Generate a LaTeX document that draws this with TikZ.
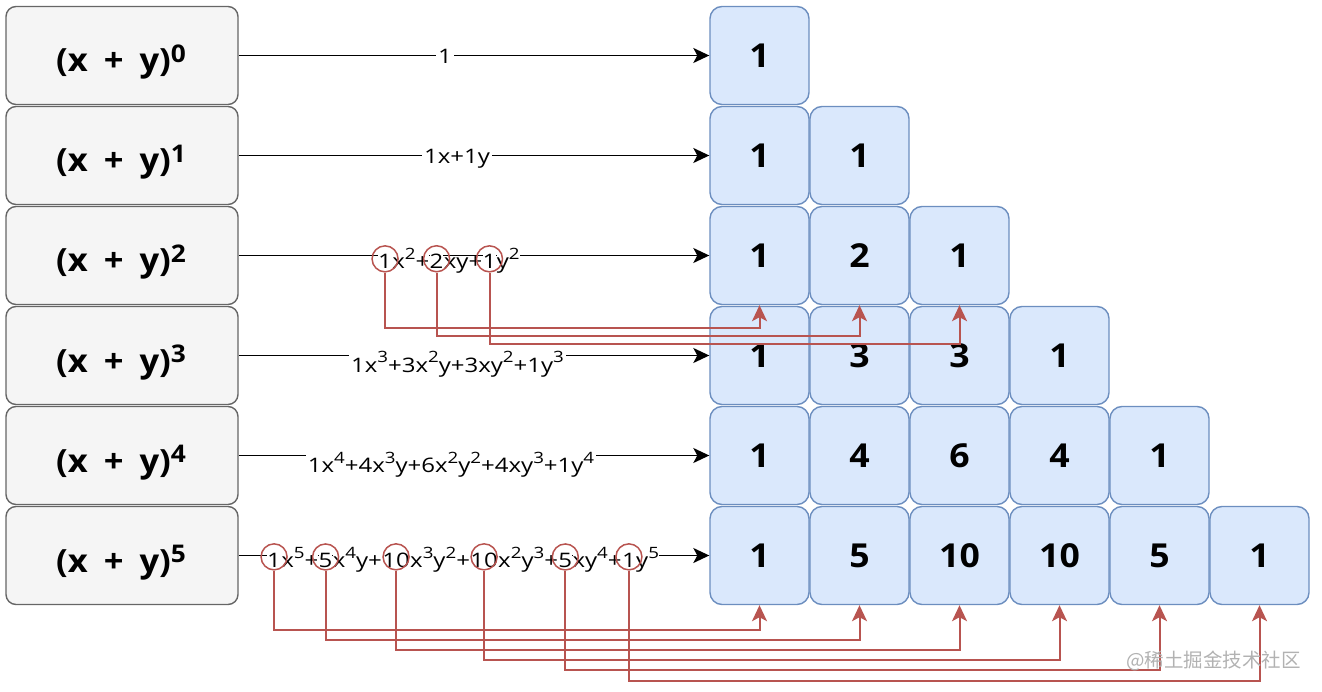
\documentclass[tikz,border=0pt]{standalone}
\usepackage{fontspec}
\setmainfont{Open Sans}
\newfontfamily\lblfont[FakeStretch=1.2]{Open Sans}
\newfontfamily\boxfont[FakeStretch=1.08]{Open Sans}
\newfontfamily\cjkfont{Noto Sans CJK SC}
\usetikzlibrary{arrows.meta}
\definecolor{gstroke}{HTML}{666666}
\definecolor{gfill}{HTML}{F5F5F5}
\definecolor{bstroke}{HTML}{6C8EBF}
\definecolor{bfill}{HTML}{DAE8FC}
\definecolor{rstroke}{HTML}{B85450}
\newcommand\sps[1]{\raisebox{0.45em}{\scalebox{0.78}{#1}}}
\newcommand\bsps[1]{\raisebox{0.3em}{\scalebox{0.76}{#1}}}
\newcommand\boxtxt[1]{(x\hspace{0.5em}+\hspace{0.5em}y)\bsps{#1}}
\tikzset{
  lbox/.style={draw=gstroke, fill=gfill, line width=1.4pt, rounded corners=10pt,
    minimum width=232pt, minimum height=98pt, inner sep=0pt},
  ltxt/.style={anchor=base, inner sep=0pt, font=\boxfont\fontsize{32}{32}\selectfont\bfseries},
  bbox/.style={draw=bstroke, fill=bfill, line width=1.4pt, rounded corners=12pt,
    minimum width=99pt, minimum height=98pt, inner sep=0pt,
    font=\boxfont\fontsize{33}{33}\selectfont\bfseries},
  arr/.style={line width=1.8pt, draw=black, -{Stealth[length=16pt,width=15pt,inset=4pt]}},
  conn/.style={line width=2pt, draw=rstroke, -{Stealth[length=16pt,width=15pt,inset=4pt]}},
  ring/.style={circle, draw=rstroke, line width=1.5pt, minimum size=26pt, inner sep=0pt},
  elbl/.style={fill=white, inner ysep=0pt, inner xsep=2pt, font=\lblfont\fontsize{20}{20}\selectfont},
  cbit/.style={fill=white, inner sep=0pt, anchor=base west, font=\lblfont\fontsize{20}{20}\selectfont},
}
\begin{document}
\begin{tikzpicture}[x=1pt,y=-1pt]
\useasboundingbox (0,0) rectangle (1322,692);
% left boxes
\foreach \i in {0,...,5}{
  \node[lbox] (L\i) at (122,55.5+100*\i) {};
  \node[ltxt] (T\i) at (121,72+100*\i) {\boxtxt{\i}};
}
% blue boxes
\node[bbox] (B00) at (759.5,55.5) {1};
\node[bbox] (B10) at (759.5,155.5) {1};
\node[bbox] (B11) at (859.5,155.5) {1};
\node[bbox] (B20) at (759.5,255.5) {1};
\node[bbox] (B21) at (859.5,255.5) {2};
\node[bbox] (B22) at (959.5,255.5) {1};
\node[bbox] (B30) at (759.5,355.5) {1};
\node[bbox] (B31) at (859.5,355.5) {3};
\node[bbox] (B32) at (959.5,355.5) {3};
\node[bbox] (B33) at (1059.5,355.5) {1};
\node[bbox] (B40) at (759.5,455.5) {1};
\node[bbox] (B41) at (859.5,455.5) {4};
\node[bbox] (B42) at (959.5,455.5) {6};
\node[bbox] (B43) at (1059.5,455.5) {4};
\node[bbox] (B44) at (1159.5,455.5) {1};
\node[bbox] (B50) at (759.5,555.5) {1};
\node[bbox] (B51) at (859.5,555.5) {5};
\node[bbox] (B52) at (959.5,555.5) {10};
\node[bbox] (B53) at (1059.5,555.5) {10};
\node[bbox] (B54) at (1159.5,555.5) {5};
\node[bbox] (B55) at (1259.5,555.5) {1};
% black arrows
\foreach \i in {0,...,5}{
  \draw[arr] (L\i.east) -- (B\i0.west);
}
% edge labels
\node[elbl, anchor=base] (e0) at (445,64) {1};
\node[elbl, anchor=base] (e1) at (457,164) {1x+1y};
\node[elbl, anchor=base] (e3) at (457.5,372) {1x\sps{3}+3x\sps{2}y+3xy\sps{2}+1y\sps{3}};
\node[elbl, anchor=base] (e4) at (451,472) {1x\sps{4}+4x\sps{3}y+6x\sps{2}y\sps{2}+4xy\sps{3}+1y\sps{4}};
% row 2 label
\node[cbit] (a1) at (378,269) {1};
\node[cbit] (a2) at (a1.base east) {x\sps{2}+};
\node[cbit] (a3) at (a2.base east) {2};
\node[cbit] (a4) at (a3.base east) {xy+};
\node[cbit] (a5) at (a4.base east) {1};
\node[cbit] (a6) at (a5.base east) {y\sps{2}};
% row 5 label
\node[cbit] (b1) at (267,567) {1};
\node[cbit] (b2) at (b1.base east) {x\sps{5}+};
\node[cbit] (b3) at (b2.base east) {5};
\node[cbit] (b4) at (b3.base east) {x\sps{4}y+};
\node[cbit] (b5) at (b4.base east) {10};
\node[cbit] (b6) at (b5.base east) {x\sps{3}y\sps{2}+};
\node[cbit] (b7) at (b6.base east) {10};
\node[cbit] (b8) at (b7.base east) {x\sps{2}y\sps{3}+};
\node[cbit] (b9) at (b8.base east) {5};
\node[cbit] (b10) at (b9.base east) {xy\sps{4}+};
\node[cbit] (b11) at (b10.base east) {1};
\node[cbit] (b12) at (b11.base east) {y\sps{5}};
% rings
\node[ring] (k21) at ([yshift=3pt]a1.center) {};
\node[ring] (k22) at ([yshift=3pt]a3.center) {};
\node[ring] (k23) at ([yshift=3pt]a5.center) {};
\node[ring] (k51) at ([yshift=3pt]b1.center) {};
\node[ring] (k52) at ([yshift=3pt]b3.center) {};
\node[ring] (k53) at ([yshift=3pt]b5.center) {};
\node[ring] (k54) at ([yshift=3pt]b7.center) {};
\node[ring] (k55) at ([yshift=3pt]b9.center) {};
\node[ring] (k56) at ([yshift=3pt]b11.center) {};
% red connectors row 2
\draw[conn] (k21.south) |- ([yshift=-23pt]B20.south) -- (B20.south);
\draw[conn] (k22.south) |- ([yshift=-31pt]B21.south) -- (B21.south);
\draw[conn] (k23.south) |- ([yshift=-39pt]B22.south) -- (B22.south);
% red connectors row 5
\draw[conn] (k51.south) |- ([yshift=-24.5pt]B50.south) -- (B50.south);
\draw[conn] (k52.south) |- ([yshift=-34.5pt]B51.south) -- (B51.south);
\draw[conn] (k53.south) |- ([yshift=-44.5pt]B52.south) -- (B52.south);
\draw[conn] (k54.south) |- ([yshift=-54.5pt]B53.south) -- (B53.south);
\draw[conn] (k55.south) |- ([yshift=-64.5pt]B54.south) -- (B54.south);
\draw[conn] (k56.south) |- ([yshift=-75.5pt]B55.south) -- (B55.south);
% watermark
\node[anchor=east, text=gray!60, inner sep=0pt, font=\cjkfont\fontsize{19.5}{19.5}\selectfont] (wm) at (1301,661) {@稀土掘金技术社区};
\end{tikzpicture}
\end{document}
